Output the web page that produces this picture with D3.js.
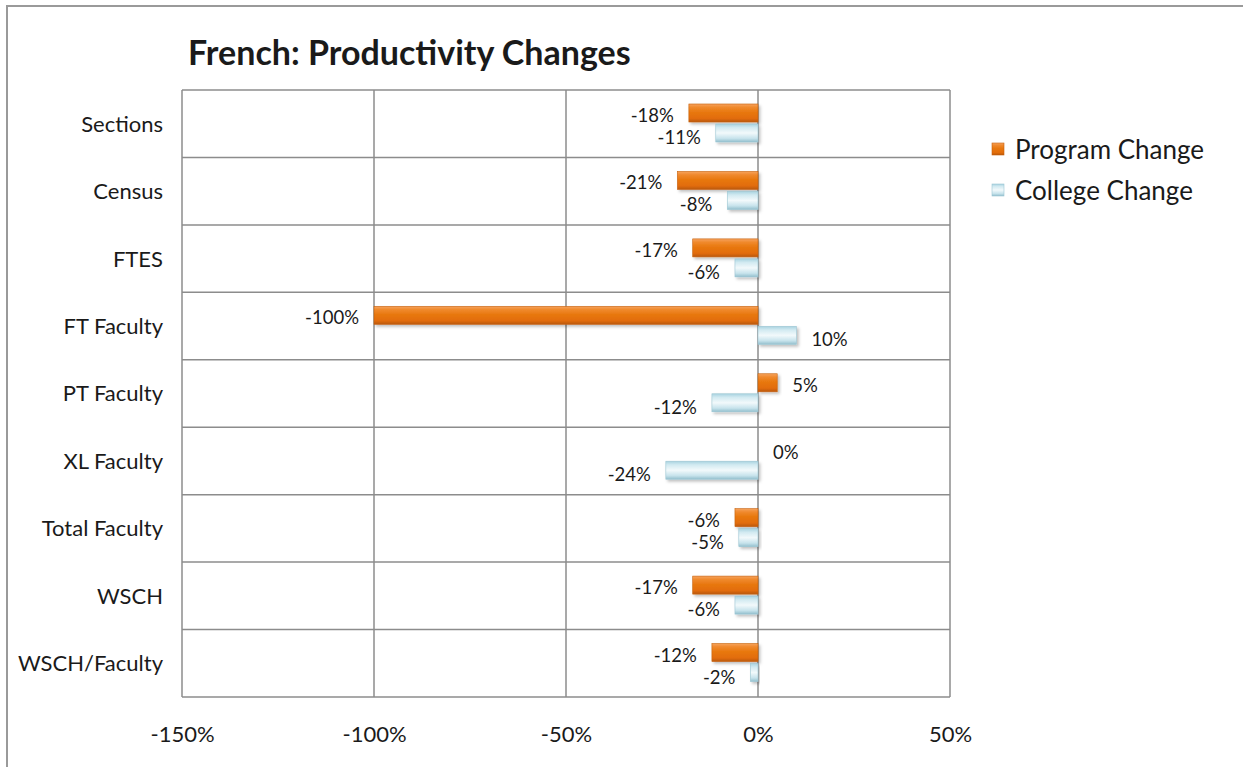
<!DOCTYPE html>
<html>
<head>
<meta charset="utf-8">
<script src="https://cdn.jsdelivr.net/npm/d3@7"></script>
<style>
  html, body { margin: 0; padding: 0; background: #fff; }
  svg { display: block; }
  text { font-family: Lato, "Open Sans", sans-serif; fill: #1a1a1a; }
</style>
</head>
<body>
<svg id="chart" width="1243" height="767"></svg>
<script>
const categories = ["Sections", "Census", "FTES", "FT Faculty", "PT Faculty", "XL Faculty", "Total Faculty", "WSCH", "WSCH/Faculty"];
const programChange = [-18, -21, -17, -100, 5, 0, -6, -17, -12];
const collegeChange = [-11, -8, -6, 10, -12, -24, -5, -6, -2];
const seriesNames = ["Program Change", "College Change"];
const xTicks = [-150, -100, -50, 0, 50];

const svg = d3.select("#chart");
const W = 1243, H = 767;
const plot = { left: 182, right: 950, top: 90, bottom: 697 };

// defs: gradients and shadow
const defs = svg.append("defs");
const og = defs.append("linearGradient").attr("id", "gOrange").attr("x1", 0).attr("y1", 0).attr("x2", 0).attr("y2", 1);
[[0, "#F6A35E"], [0.18, "#F08A2E"], [0.45, "#E8780F"], [0.8, "#E26C0A"], [1, "#B9580A"]]
  .forEach(([o, c]) => og.append("stop").attr("offset", o).attr("stop-color", c));
const bg = defs.append("linearGradient").attr("id", "gBlue").attr("x1", 0).attr("y1", 0).attr("x2", 0).attr("y2", 1);
[[0, "#A9D3E0"], [0.2, "#D2EAF1"], [0.5, "#F2F9FB"], [0.8, "#C7E3EC"], [1, "#93BFCD"]]
  .forEach(([o, c]) => bg.append("stop").attr("offset", o).attr("stop-color", c));
const f = defs.append("filter").attr("id", "shadow").attr("x", "-10%").attr("y", "-30%").attr("width", "130%").attr("height", "180%");
f.append("feDropShadow").attr("dx", 2).attr("dy", 2).attr("stdDeviation", 1.5).attr("flood-color", "#000").attr("flood-opacity", 0.25);

// outer frame (top and left visible)
svg.append("line").attr("x1", 6).attr("x2", W).attr("y1", 6).attr("y2", 6).attr("stroke", "#9a9a9a").attr("stroke-width", 2);
svg.append("line").attr("x1", 7).attr("x2", 7).attr("y1", 6).attr("y2", H).attr("stroke", "#9a9a9a").attr("stroke-width", 2);

// scales
const x = d3.scaleLinear().domain([-150, 50]).range([plot.left, plot.right]);
const y = d3.scaleBand().domain(categories).range([plot.top, plot.bottom]).paddingInner(0).paddingOuter(0);
const bw = y.bandwidth();
const barH = 18, barOff = 14, gap = 2;

// grid
const grid = svg.append("g");
xTicks.forEach(t => {
  grid.append("line").attr("x1", x(t)).attr("x2", x(t)).attr("y1", plot.top).attr("y2", plot.bottom)
    .attr("stroke", "#8c8c8c").attr("stroke-width", 1.5);
});
for (let i = 0; i <= categories.length; i++) {
  const yy = plot.top + i * bw;
  grid.append("line").attr("x1", plot.left).attr("x2", plot.right).attr("y1", yy).attr("y2", yy)
    .attr("stroke", "#8c8c8c").attr("stroke-width", 1.5);
}

// x axis labels
const xAxis = d3.axisBottom(x).tickValues(xTicks).tickFormat(d => d + "%").tickSize(0).tickPadding(0);
const gx = svg.append("g").attr("transform", `translate(0, ${plot.bottom + 29})`).call(xAxis);
gx.select(".domain").remove();
gx.selectAll("text").attr("font-size", 22).attr("font-family", "Lato, sans-serif").attr("fill", "#1a1a1a").attr("dy", "0.72em");

// y axis labels
const yAxis = d3.axisLeft(y).tickSize(0).tickPadding(0);
const gy = svg.append("g").attr("transform", `translate(${plot.left - 19}, 0)`).call(yAxis);
gy.select(".domain").remove();
gy.selectAll("text").attr("font-size", 22).attr("font-family", "Lato, sans-serif").attr("fill", "#1a1a1a").attr("dy", "0.36em");

// bars
const series = [
  { name: seriesNames[0], values: programChange, fill: "url(#gOrange)", stroke: "#C7600A", idx: 0, lblOff: 2 },
  { name: seriesNames[1], values: collegeChange, fill: "url(#gBlue)", stroke: "#9CC6D3", idx: 1, lblOff: 4 }
];
const barsG = svg.append("g");
const labelsG = svg.append("g");
series.forEach(s => {
  const data = categories.map((c, i) => ({ cat: c, v: s.values[i] }));
  const yTop = d => y(d.cat) + barOff + s.idx * (barH + gap);
  barsG.selectAll(null).data(data).enter().append("rect")
    .attr("x", d => Math.min(x(0), x(d.v)))
    .attr("width", d => Math.abs(x(d.v) - x(0)))
    .attr("y", yTop)
    .attr("height", barH)
    .attr("fill", s.fill)
    .attr("stroke", s.stroke).attr("stroke-width", 0.6)
    .attr("filter", "url(#shadow)");
  labelsG.selectAll(null).data(data).enter().append("text")
    .attr("x", d => d.v < 0 ? x(d.v) - 15 : x(d.v) + 15)
    .attr("y", d => yTop(d) + barH / 2 + s.lblOff)
    .attr("text-anchor", d => d.v < 0 ? "end" : "start")
    .attr("dominant-baseline", "central")
    .attr("font-size", 18.5)
    .text(d => d.v + "%");
});

// title
svg.append("text").attr("x", 188).attr("y", 65).attr("font-size", 34).attr("font-weight", "bold")
  .attr("font-family", "Lato, sans-serif").attr("fill", "#111")
  .text("French: Productivity Changes");

// legend
const legend = svg.append("g").attr("transform", "translate(992, 143)");
[{ fill: "url(#gOrange)", stroke: "#C7600A" }, { fill: "url(#gBlue)", stroke: "#9CC6D3" }].forEach((l, i) => {
  const g = legend.append("g").attr("transform", `translate(0, ${i * 41})`);
  g.append("rect").attr("width", 12).attr("height", 12).attr("fill", l.fill).attr("stroke", l.stroke).attr("stroke-width", 0.6);
  g.append("text").attr("x", 23).attr("y", 6).attr("dominant-baseline", "central")
    .attr("font-size", 26).attr("fill", "#1a1a1a").text(seriesNames[i]);
});
</script>
</body>
</html>
